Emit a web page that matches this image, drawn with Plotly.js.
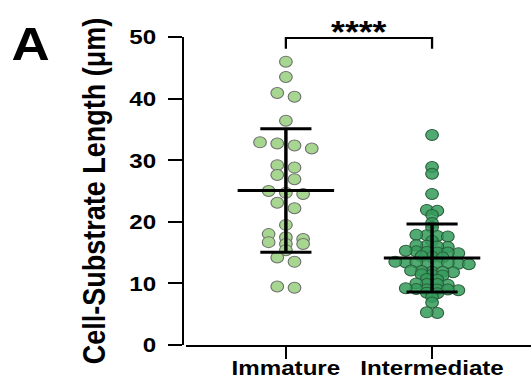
<!DOCTYPE html>
<html>
<head>
<meta charset="utf-8">
<script src="https://cdn.plot.ly/plotly-3.0.1.min.js"></script>
<style>
  html, body { margin: 0; padding: 0; background: #fff; overflow: hidden; }
  #wrap { width: 531px; height: 387px; overflow: hidden; }
  #plot { width: 462px; height: 387px; transform: scaleX(1.1494); transform-origin: 0 0; }
</style>
</head>
<body>
<div id="wrap"><div id="plot"></div></div>
<script>
// ---- data ----
const categories = ["Immature", "Intermediate"];
const immature = [46.0, 43.5, 40.9, 40.3, 36.4, 32.9, 32.7, 32.4, 31.9, 29.2, 28.8, 27.6, 26.9,
  25.0, 24.7, 24.5, 23.1, 22.2, 19.5, 18.0, 17.5, 17.2, 16.7, 16.4, 16.4, 15.4, 14.2, 13.5, 9.5, 9.3];
const intermediate = [34.1, 28.9, 27.8, 24.5, 21.9, 21.8, 21.1, 19.8, 19.1,
  17.7, 17.6, 17.8, 17.9, 16.9, 16.1, 15.9, 16.2, 16.0,
  15.2, 15.0, 15.3, 14.9, 15.1, 15.0, 14.3, 14.4, 14.2,
  13.3, 13.4, 13.2, 13.3, 13.5, 13.1, 13.3, 13.4,
  11.9, 12.0, 11.8, 12.1, 11.9, 11.4, 11.3, 11.5, 10.6, 10.7,
  9.9, 10.0, 9.8, 9.9, 9.0, 9.1, 8.9, 9.0, 9.2, 9.0, 8.4, 8.5, 7.8, 6.9, 5.2, 5.3];
const yTicks = [0, 10, 20, 30, 40, 50];
const yTitle = "Cell-Substrate Length (μm)";
const sigText = "****";
const panelLabel = "A";

// ---- helpers ----
function swarmX(vals, center, binH, step) {
  const idx = vals.map((v, i) => i).sort((a, b) => vals[b] - vals[a]);
  const xs = new Array(vals.length);
  let row = [];
  const flush = () => {
    row.forEach((k, j) => { xs[k] = center + (j - (row.length - 1) / 2) * step; });
    row = [];
  };
  idx.forEach(k => {
    if (row.length && vals[row[0]] - vals[k] > binH) flush();
    row.push(k);
  });
  flush();
  return xs;
}
function meanSd(v) {
  const m = v.reduce((a, b) => a + b, 0) / v.length;
  const s = Math.sqrt(v.reduce((a, b) => a + (b - m) * (b - m), 0) / (v.length - 1));
  return [m, s];
}
function errTraces(c, vals) {
  const [m, s] = meanSd(vals);
  const hw = 0.33, cw = 0.175;
  return {
    x: [c - hw, c + hw, null, c - cw, c + cw, null, c, c, null, c - cw, c + cw],
    y: [m, m, null, m + s, m + s, null, m + s, m - s, null, m - s, m - s],
    mode: 'lines', line: { color: '#000', width: 3 }, hoverinfo: 'skip', showlegend: false
  };
}

const FONT = 'Liberation Sans, Arial, Helvetica, sans-serif';

const traces = [
  {
    x: swarmX(immature, 0, 1.2, 0.118), y: immature, mode: 'markers', showlegend: false,
    marker: { size: 11, color: '#a6d68f', line: { color: '#6f6f6f', width: 1 } }
  },
  {
    x: swarmX(intermediate, 1, 0.5, 0.072), y: intermediate, mode: 'markers', showlegend: false,
    marker: { size: 11, color: 'rgba(52,155,90,0.85)', line: { color: '#2b5e3c', width: 1 } }
  },
  errTraces(0, immature),
  errTraces(1, intermediate),
  {
    x: [0, 0, 1, 1], y: [48.1, 49.85, 49.85, 48.1], mode: 'lines', cliponaxis: false,
    line: { color: '#000', width: 2 }, hoverinfo: 'skip', showlegend: false
  }
];

const layout = {
  width: 462, height: 387,
  margin: { l: 159, r: 0, t: 37, b: 42 },
  paper_bgcolor: '#fff', plot_bgcolor: '#fff',
  font: { family: FONT, color: '#000' },
  xaxis: {
    domain: [0.0086, 1], range: [-0.685, 1.677],
    tickvals: [0, 1], ticktext: categories,
    showline: true, linewidth: 2, linecolor: '#000',
    ticks: 'outside', ticklen: 12, tickwidth: 2, tickcolor: '#000',
    ticklabelstandoff: -9,
    tickfont: { family: FONT, size: 21, color: '#000', weight: 'bold' },
    showgrid: false, zeroline: false, fixedrange: true
  },
  yaxis: {
    anchor: 'free', position: 0, range: [0, 50],
    tickvals: yTicks, ticktext: yTicks.map(String),
    showline: true, linewidth: 2, linecolor: '#000',
    ticks: 'outside', ticklen: 12, tickwidth: 2, tickcolor: '#000',
    ticklabelstandoff: 6,
    tickfont: { family: FONT, size: 21, color: '#000', weight: 'bold' },
    title: { text: yTitle, standoff: 12, font: { family: FONT, size: 27, color: '#000', weight: 'bold' } },
    showgrid: false, zeroline: false, fixedrange: true
  },
  annotations: [
    {
      text: sigText, xref: 'x', yref: 'paper', x: 0.5, y: 1.013,
      xanchor: 'center', yanchor: 'middle', showarrow: false,
      font: { family: FONT, size: 31, color: '#000', weight: 'bold' }
    },
    {
      text: panelLabel, xref: 'paper', yref: 'paper', x: -0.4366, y: 0.977,
      xanchor: 'center', yanchor: 'middle', showarrow: false,
      font: { family: FONT, size: 46, color: '#000', weight: 'bold' }
    }
  ]
};

Plotly.newPlot('plot', traces, layout, { displayModeBar: false, staticPlot: true });
</script>
</body>
</html>
